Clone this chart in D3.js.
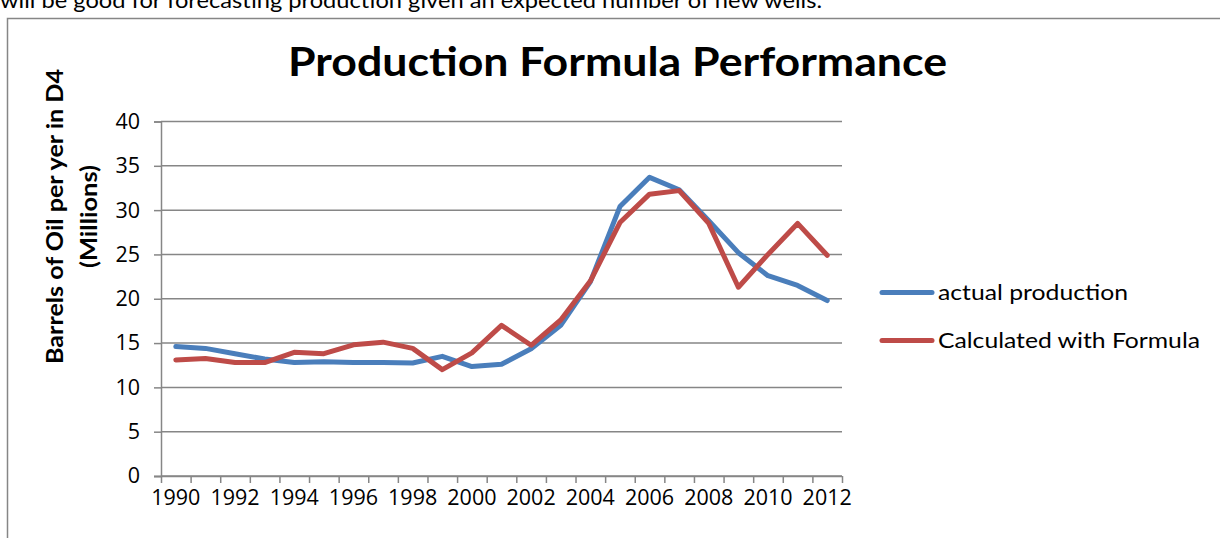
<!DOCTYPE html>
<html>
<head>
<meta charset="utf-8">
<script src="https://cdn.jsdelivr.net/npm/d3@7"></script>
<style>
  body { margin: 0; background: #fff; }
  svg { display: block; }
</style>
</head>
<body>
<svg id="chart" width="1220" height="538"></svg>
<script>
// Years on the category axis
const years = [1990, 1991, 1992, 1993, 1994, 1995, 1996, 1997, 1998, 1999, 2000,
               2001, 2002, 2003, 2004, 2005, 2006, 2007, 2008, 2009, 2010, 2011, 2012];

// Barrels of oil per year in D4, millions
const actualProduction = [14.6, 14.4, 13.8, 13.2, 12.8, 12.9, 12.8, 12.8, 12.75, 13.5, 12.35,
                          12.6, 14.35, 17.0, 21.9, 30.4, 33.7, 32.3, 28.8, 25.2, 22.6, 21.5, 19.8];
const calculatedWithFormula = [13.1, 13.25, 12.8, 12.8, 13.95, 13.8, 14.8, 15.1, 14.4, 12.0, 13.9,
                               17.0, 14.75, 17.6, 22.0, 28.6, 31.8, 32.2, 28.5, 21.3, 25.0, 28.5, 24.9];

const seriesNames = ["actual production", "Calculated with Formula"];
const yTickValues = [0, 5, 10, 15, 20, 25, 30, 35, 40];
const xTickLabels = [1990, 1992, 1994, 1996, 1998, 2000, 2002, 2004, 2006, 2008, 2010, 2012];

const chartTitle = "Production Formula Performance";
const yTitleLines = ["Barrels of Oil per yer in D4", "(Millions)"];
const pageText = "will be good for forecasting production given an expected number of new wells.";

const FONT = "Lato, 'Open Sans', sans-serif";
const TICK_FONT = "'Open Sans', Lato, sans-serif";
const AXIS_GREY = "#868686";
const COLORS = ["#4A7EBB", "#BE4B48"];

const svg = d3.select("#chart");

// Surrounding document line, clipped by the top of the page
svg.append("text")
  .attr("x", 0).attr("y", 8)
  .attr("font-family", FONT).attr("font-size", 22)
  .attr("textLength", 822).attr("lengthAdjust", "spacingAndGlyphs")
  .attr("fill", "#000")
  .text(pageText);

// Chart frame (continues past the right and bottom edges)
svg.append("rect")
  .attr("x", 7.5).attr("y", 18.5)
  .attr("width", 1400).attr("height", 700)
  .attr("fill", "#fff")
  .attr("stroke", AXIS_GREY).attr("stroke-width", 1.5);

const plot = { left: 161, right: 842, top: 121.5, bottom: 476 };

const x = d3.scaleBand().domain(years).range([plot.left, plot.right]);
const xEdges = d3.scaleLinear().domain([0, years.length]).range([plot.left, plot.right]);
const y = d3.scaleLinear().domain([0, 40]).range([plot.bottom, plot.top]);

// Horizontal gridlines
svg.append("g")
  .selectAll("line")
  .data(yTickValues)
  .join("line")
  .attr("x1", plot.left).attr("x2", plot.right)
  .attr("y1", d => y(d)).attr("y2", d => y(d))
  .attr("stroke", AXIS_GREY).attr("stroke-width", 1.5);

// Value axis
const yAxis = svg.append("g")
  .attr("transform", `translate(${plot.left},0)`)
  .call(d3.axisLeft(y).tickValues(yTickValues).tickSize(7).tickPadding(14));
yAxis.select(".domain").attr("stroke", AXIS_GREY).attr("stroke-width", 1.5);
yAxis.selectAll(".tick line").attr("stroke", AXIS_GREY).attr("stroke-width", 1.5);
yAxis.selectAll(".tick text")
  .attr("font-family", TICK_FONT).attr("font-size", 21.5).attr("fill", "#000");

// Category axis: tick marks between categories
const xAxisTicks = svg.append("g")
  .attr("transform", `translate(0,${plot.bottom})`)
  .call(d3.axisBottom(xEdges).tickValues(d3.range(years.length + 1)).tickSize(7).tickFormat(""));
xAxisTicks.select(".domain").attr("stroke", AXIS_GREY).attr("stroke-width", 1.5)
  .attr("d", `M${plot.left - 7},0.5H${plot.right}`);
xAxisTicks.selectAll(".tick line").attr("stroke", AXIS_GREY).attr("stroke-width", 1.5);

// Category labels on every second year
const xAxisLabels = svg.append("g")
  .attr("transform", `translate(0,${plot.bottom})`)
  .call(d3.axisBottom(x).tickValues(xTickLabels).tickSize(0).tickPadding(14));
xAxisLabels.select(".domain").remove();
xAxisLabels.selectAll(".tick text")
  .attr("font-family", TICK_FONT).attr("font-size", 21.5).attr("fill", "#000");

// Series lines
const line = d3.line()
  .x((d, i) => x(years[i]) + x.bandwidth() / 2)
  .y(d => y(d));

[actualProduction, calculatedWithFormula].forEach((values, k) => {
  svg.append("path")
    .datum(values)
    .attr("d", line)
    .attr("fill", "none")
    .attr("stroke", COLORS[k])
    .attr("stroke-width", 5)
    .attr("stroke-linejoin", "round")
    .attr("stroke-linecap", "round");
});

// Chart title
svg.append("text")
  .attr("x", 617.5).attr("y", 76)
  .attr("text-anchor", "middle")
  .attr("font-family", FONT).attr("font-size", 40).attr("font-weight", "bold")
  .attr("textLength", 659).attr("lengthAdjust", "spacingAndGlyphs")
  .text(chartTitle);

// Value axis title, two rotated lines
const yTitle = svg.append("g").attr("transform", "translate(0,216.5) rotate(-90)");
yTitle.append("text")
  .attr("x", 0).attr("y", 63)
  .attr("text-anchor", "middle")
  .attr("font-family", FONT).attr("font-size", 23).attr("font-weight", "bold")
  .attr("textLength", 295).attr("lengthAdjust", "spacingAndGlyphs")
  .text(yTitleLines[0]);
yTitle.append("text")
  .attr("x", 0).attr("y", 97)
  .attr("text-anchor", "middle")
  .attr("font-family", FONT).attr("font-size", 23).attr("font-weight", "bold")
  .attr("textLength", 103).attr("lengthAdjust", "spacingAndGlyphs")
  .text(yTitleLines[1]);

// Legend
const legendY = [292.5, 340.5];
const legendTextLen = [190, 262];
const legend = svg.append("g");
seriesNames.forEach((name, k) => {
  legend.append("line")
    .attr("x1", 882).attr("x2", 932)
    .attr("y1", legendY[k]).attr("y2", legendY[k])
    .attr("stroke", COLORS[k]).attr("stroke-width", 5)
    .attr("stroke-linecap", "round");
  legend.append("text")
    .attr("x", 938).attr("y", legendY[k] + 7)
    .attr("font-family", FONT).attr("font-size", 21)
    .attr("textLength", legendTextLen[k]).attr("lengthAdjust", "spacingAndGlyphs")
    .text(name);
});
</script>
</body>
</html>
